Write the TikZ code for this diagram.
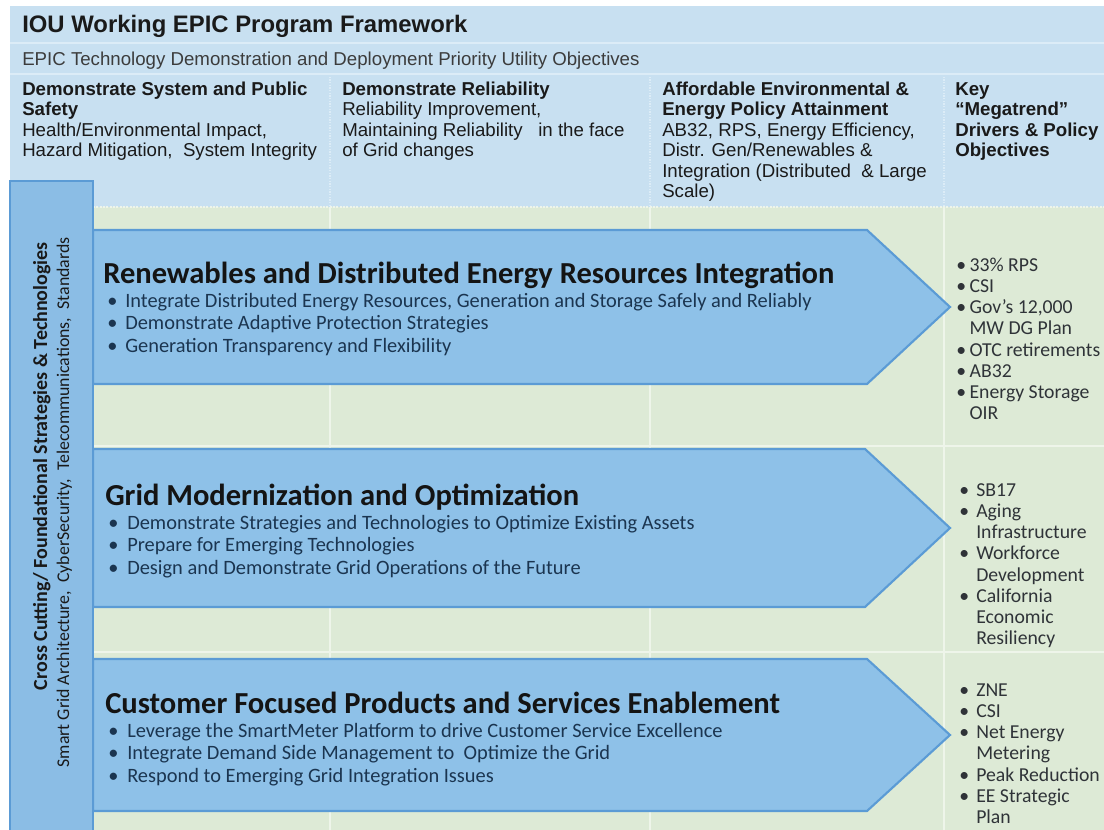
\documentclass[tikz,border=0pt]{standalone}
\usepackage{fontspec}
\setmainfont{Liberation Sans}
\newfontfamily\calfont{Carlito}
\definecolor{hdrblue}{HTML}{C8E0F1}
\definecolor{hdrline}{HTML}{DCECF7}
\definecolor{bodygreen}{HTML}{DDEAD6}
\definecolor{bodyline}{HTML}{EEF5EA}
\definecolor{barfill}{HTML}{8BBDE5}
\definecolor{edgeblue}{HTML}{5B9BD5}
\definecolor{arrowfill}{HTML}{8EC1E8}
\definecolor{bulletblue}{HTML}{1B3550}
\definecolor{listgray}{HTML}{2F3338}
\definecolor{hdrtext}{HTML}{1A1A1A}
\begin{document}
\begin{tikzpicture}[x=0.75pt,y=-0.75pt,
  txt/.style={anchor=north west,inner sep=0pt,align=left},
  hdrtitle/.style={txt,font=\fontsize{17.9}{20}\selectfont\bfseries,text=hdrtext},
  hdrsub/.style={txt,font=\fontsize{14}{16}\selectfont,text=hdrtext!85},
  colhead/.style={txt,font=\fontsize{14}{15.4}\selectfont,text=hdrtext},
  arrtitle/.style={txt,font=\calfont\fontsize{22.9}{25}\selectfont\bfseries,text=black!92},
  arrlist/.style={txt,font=\calfont\fontsize{15.3}{16.8}\selectfont,text=bulletblue},
  keylist/.style={txt,font=\calfont\fontsize{14.8}{15.9}\selectfont,text=listgray},
  bartext/.style={anchor=base east,inner sep=0pt,rotate=90,text=black!90},
  shaft/.style={fill=arrowfill,draw=edgeblue,line width=1.6pt,line join=miter},
]
\useasboundingbox (0,0) rectangle (1104,830);
% backgrounds
\fill[white] (0,0) rectangle (1104,830);
\fill[hdrblue] (10,6) rectangle (1104,207);
\fill[bodygreen] (10,207) rectangle (1104,830);
\draw[hdrline,line width=1.5pt] (10,43) -- (1104,43);
\draw[hdrline,line width=1.5pt] (10,74) -- (1104,74);
\foreach \cx in {330,650,944}{
  \draw[hdrline,line width=1pt,densely dotted] (\cx,74) -- (\cx,207);
  \draw[bodyline,line width=1pt] (\cx,207) -- (\cx,830);
}
\draw[bodyline,line width=1.5pt,densely dotted] (93,207) -- (1104,207);
\draw[bodyline,line width=1pt] (93,446) -- (1104,446);
\draw[bodyline,line width=1pt] (93,652) -- (1104,652);

% header texts
\node[hdrtitle] (title) at (22,12) {\rule{0pt}{15pt}IOU Working EPIC Program Framework};
\node[hdrsub] (sub) at (22,45) {\rule{0pt}{15pt}EPIC Technology Demonstration and Deployment Priority Utility Objectives};
\node[colhead] (c1) at (22,75) {\rule{0pt}{15pt}\textbf{Demonstrate System and Public}\\\textbf{Safety}\\Health/Environmental Impact,\\Hazard Mitigation,\ \ System Integrity};
\node[colhead] (c2) at (342,75) {\rule{0pt}{15pt}\textbf{Demonstrate Reliability}\\Reliability Improvement,\\Maintaining Reliability\ \ \ in the face\\of Grid changes};
\node[colhead] (c3) at (662,75) {\rule{0pt}{15pt}\textbf{Affordable Environmental \&}\\\textbf{Energy Policy Attainment}\\AB32, RPS, Energy Efficiency,\\Distr. Gen/Renewables \&\\Integration (Distributed\ \ \& Large\\Scale)};
\node[colhead] (c4) at (955,75) {\rule{0pt}{15pt}\textbf{Key}\\\textbf{“Megatrend”}\\\textbf{Drivers \& Policy}\\\textbf{Objectives}};

% arrows
\coordinate (a1nw) at (93,230); \coordinate (a1tip) at (950,307);
\path[shaft] (a1nw) -- (867,230) -- (a1tip) -- (867,384) -- (93,384) -- cycle;
\coordinate (a2nw) at (93,449); \coordinate (a2tip) at (950,528);
\path[shaft] (a2nw) -- (865,449) -- (a2tip) -- (865,607) -- (93,607) -- cycle;
\coordinate (a3nw) at (93,659); \coordinate (a3tip) at (950,735);
\path[shaft] (a3nw) -- (867,659) -- (a3tip) -- (867,811) -- (93,811) -- cycle;

% left bar
\path[fill=barfill,draw=edgeblue,line width=1.8pt] (10,181) rectangle (93,834);
\node[bartext,font=\calfont\fontsize{15}{17}\selectfont\bfseries] (bar1) at (47,242) {Cross Cutting/ Foundational Strategies \& Technologies};
\node[bartext,font=\calfont\fontsize{13.4}{15}\selectfont] (bar2) at (69,237) {Smart Grid Architecture,\ \ CyberSecurity,\ \ Telecommunications,\ \ Standards};

% arrow 1 texts
\node[arrtitle] (t1) at (103,262) {\rule{0pt}{15pt}Renewables and Distributed Energy Resources Integration};
\node[arrlist] (l1) at (107,292) {\rule{0pt}{11.25pt}\makebox[13.5pt][l]{\textbullet}Integrate Distributed Energy Resources, Generation and Storage Safely and Reliably\\\makebox[13.5pt][l]{\textbullet}Demonstrate Adaptive Protection Strategies\\\makebox[13.5pt][l]{\textbullet}Generation Transparency and Flexibility};
% arrow 2 texts
\node[arrtitle] (t2) at (105,484) {\rule{0pt}{15pt}Grid Modernization and Optimization};
\node[arrlist] (l2) at (108,514) {\rule{0pt}{11.25pt}\makebox[14.25pt][l]{\textbullet}Demonstrate Strategies and Technologies to Optimize Existing Assets\\\makebox[14.25pt][l]{\textbullet}Prepare for Emerging Technologies\\\makebox[14.25pt][l]{\textbullet}Design and Demonstrate Grid Operations of the Future};
% arrow 3 texts
\node[arrtitle] (t3) at (105,692) {\rule{0pt}{15pt}Customer Focused Products and Services Enablement};
\node[arrlist] (l3) at (108,722) {\rule{0pt}{11.25pt}\makebox[14.25pt][l]{\textbullet}Leverage the SmartMeter Platform to drive Customer Service Excellence\\\makebox[14.25pt][l]{\textbullet}Integrate Demand Side Management to\ \ Optimize the Grid\\\makebox[14.25pt][l]{\textbullet}Respond to Emerging Grid Integration Issues};

% key lists
\node[keylist] (k1) at (956,256) {\rule{0pt}{11.25pt}\makebox[10pt][l]{\textbullet}33\% RPS\\\makebox[10pt][l]{\textbullet}CSI\\\makebox[10pt][l]{\textbullet}Gov’s 12,000\\\hspace*{10pt}MW DG Plan\\\makebox[10pt][l]{\textbullet}OTC retirements\\\makebox[10pt][l]{\textbullet}AB32\\\makebox[10pt][l]{\textbullet}Energy Storage\\\hspace*{10pt}OIR};
\node[keylist] (k2) at (959,481) {\rule{0pt}{11.25pt}\makebox[12.75pt][l]{\textbullet}SB17\\\makebox[12.75pt][l]{\textbullet}Aging\\\hspace*{12.75pt}Infrastructure\\\makebox[12.75pt][l]{\textbullet}Workforce\\\hspace*{12.75pt}Development\\\makebox[12.75pt][l]{\textbullet}California\\\hspace*{12.75pt}Economic\\\hspace*{12.75pt}Resiliency};
\node[keylist] (k3) at (959,681) {\rule{0pt}{11.25pt}\makebox[12.75pt][l]{\textbullet}ZNE\\\makebox[12.75pt][l]{\textbullet}CSI\\\makebox[12.75pt][l]{\textbullet}Net Energy\\\hspace*{12.75pt}Metering\\\makebox[12.75pt][l]{\textbullet}Peak Reduction\\\makebox[12.75pt][l]{\textbullet}EE Strategic\\\hspace*{12.75pt}Plan};
\end{tikzpicture}
\end{document}
